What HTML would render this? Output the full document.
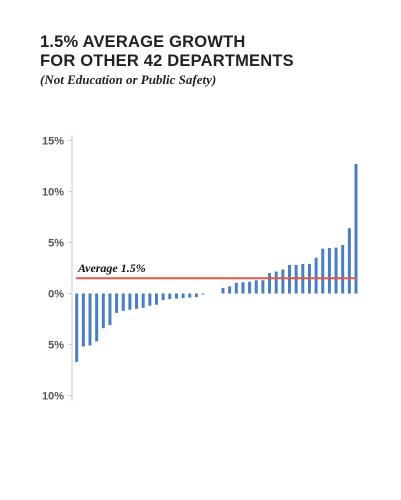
<!DOCTYPE html>
<html><head><meta charset="utf-8"><style>
body{margin:0;background:#fff;width:401px;height:500px;overflow:hidden;font-family:"Liberation Sans",sans-serif}
.t{position:absolute;left:40px;top:33px;font-weight:bold;font-size:16.5px;line-height:19px;color:#222;letter-spacing:0.2px}
.s{position:absolute;left:40px;top:72px;font-family:"Liberation Serif",serif;font-style:italic;font-weight:bold;font-size:13px;color:#222}
</style></head><body>
<div class="t">1.5% AVERAGE GROWTH<br>FOR OTHER 42 DEPARTMENTS</div>
<div class="s">(Not Education or Public Safety)</div>
<svg id="c" width="401" height="500" style="position:absolute;left:0;top:0"></svg>
<script>
const values=[-6.7,-5.2,-5.1,-4.7,-3.4,-3.1,-1.9,-1.7,-1.6,-1.5,-1.4,-1.2,-1.1,-0.65,-0.55,-0.5,-0.45,-0.4,-0.35,-0.1,0,0,0.55,0.7,1.05,1.1,1.15,1.3,1.3,2.0,2.15,2.35,2.8,2.8,2.9,2.9,3.5,4.4,4.45,4.5,4.75,6.4,12.7];
const ticks=[15,10,5,0,-5,-10];
const tickLabels=["15%","10%","5%","0%","5%","10%"];
const average=1.5;
const averageLabel="Average 1.5%";
const NS="http://www.w3.org/2000/svg";
const svg=document.getElementById('c');
const y0=293.5,k=10.2;
const y=v=>y0-v*k;
const x=i=>76.7+i*(356-76.7)/(values.length-1);
function mk(t,a){const e=document.createElementNS(NS,t);for(const n in a)e.setAttribute(n,a[n]);svg.appendChild(e);return e;}
const ax=mk('line',{x1:72,x2:72,y1:y(15.5),y2:y(-10.5),stroke:'#ccc','stroke-width':1});


ticks.forEach((t,i)=>{
 const l=mk('line',{x1:69,x2:72,y1:y(t),y2:y(t),stroke:'#ccc'});
 
 
 const tx=mk('text',{x:64,y:y(t)+4,'text-anchor':'end','font-size':11,'font-weight':'bold',fill:'#555','font-family':'Liberation Sans, sans-serif'});
 tx.textContent=tickLabels[i];
 
 
});
values.forEach((v,i)=>{
 if(v===0)return;
 const r=mk('rect',{x:x(i)-1.5,width:3,y:Math.min(y(v),y0),height:Math.abs(y(v)-y0),fill:'#4a7ebf'});
 
 
});
const al=mk('line',{x1:76,x2:357,y1:y(average),y2:y(average),stroke:'#e0594f','stroke-width':2});


const at=mk('text',{x:78,y:y(average)-6,'font-size':12,'font-style':'italic','font-weight':'bold',fill:'#111','font-family':'Liberation Serif, serif'});
at.textContent=averageLabel;


</script>
</body></html>
